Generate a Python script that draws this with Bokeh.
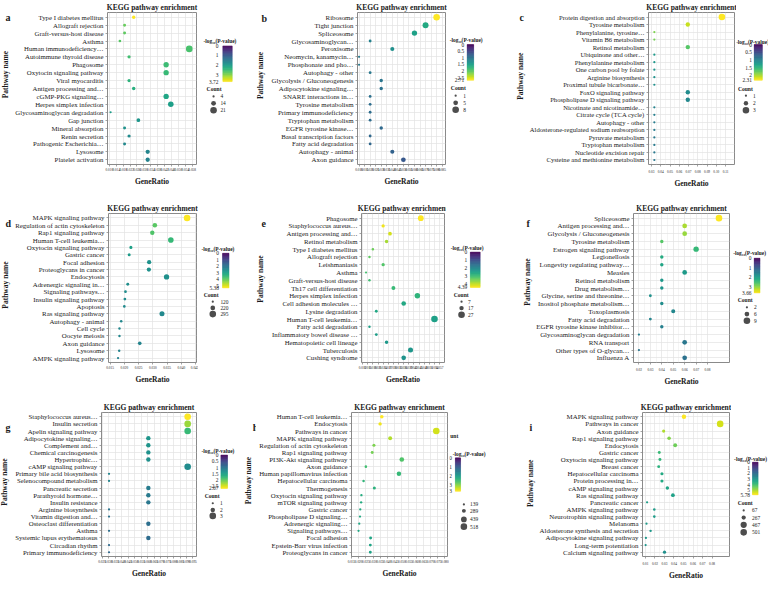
import numpy as np
from bokeh.plotting import figure
from bokeh.layouts import row, column
from bokeh.models import (Range1d, FixedTicker, NumeralTickFormatter,
                          LinearColorMapper, ColumnDataSource, LinearInterpolator)
from bokeh.transform import transform
from bokeh.palettes import Viridis256
from bokeh.core.properties import value
from bokeh.embed import file_html
from bokeh.resources import INLINE

SERIF = "Liberation Serif"
TXT = "#1a1a1a"

# ------------------------------------------------------------------ data
a_pathway = ["Type I diabetes mellitus", "Allograft rejection", "Graft-versus-host disease", "Asthma",
             "Human immunodeficiency…", "Autoimmune thyroid disease", "Phagosome", "Oxytocin signaling pathway",
             "Viral myocarditis", "Antigen processing and…", "cGMP-PKG signaling…", "Herpes simplex infection",
             "Glycosaminoglycan degradation", "Gap junction", "Mineral absorption", "Renin secretion",
             "Pathogenic Escherichia…", "Lysosome", "Platelet activation"]
a_ratio = [0.0241, 0.0188, 0.0188, 0.0161, 0.0563, 0.0214, 0.0429, 0.0429, 0.0214, 0.0241, 0.0429, 0.0456,
           0.0107, 0.0268, 0.0188, 0.0214, 0.0188, 0.0322, 0.0322]
a_count = [9, 7, 7, 6, 21, 8, 16, 16, 8, 9, 16, 17, 4, 10, 7, 8, 7, 12, 12]
a_logp = [3.72, 2.85, 2.8, 2.75, 2.65, 2.6, 2.55, 2.5, 2.4, 2.35, 2.2, 2.1, 2.05, 1.95, 1.9, 1.8, 1.75, 1.7, 1.65]
a_xticks = [0.010, 0.014, 0.018, 0.022, 0.026, 0.030, 0.034, 0.038, 0.042, 0.046, 0.050, 0.054, 0.058]
a_xlim = [0.0089, 0.0605]
a_cbar = [0, 1, 2, 3, 3.72]
a_sizes = [4, 14, 21]

b_pathway = ["Ribosome", "Tight junction", "Spliceosome", "Glycosaminoglycan…", "Peroxisome",
             "Neomycin, kanamycin…", "Phosphonate and pho…", "Autophagy - other", "Glycolysis / Gluconeogenesis",
             "Adipocytokine signaling…", "SNARE interactions in…", "Tyrosine metabolism",
             "Primary immunodeficiency", "Tryptophan metabolism", "EGFR tyrosine kinase…",
             "Basal transcription factors", "Fatty acid degradation", "Autophagy - animal", "Axon guidance"]
b_ratio = [0.08, 0.07, 0.06, 0.02, 0.04, 0.01, 0.01, 0.02, 0.03, 0.03, 0.02, 0.02, 0.02, 0.02, 0.03, 0.02,
           0.02, 0.04, 0.05]
b_count = [8, 7, 6, 2, 4, 1, 1, 2, 3, 3, 2, 2, 2, 2, 3, 2, 2, 4, 5]
b_logp = [2.71, 1.65, 1.55, 1.2, 1.35, 1.12, 1.1, 1.08, 1.05, 1.02, 1.0, 0.98, 0.97, 0.96, 0.93, 0.92, 0.91,
          0.85, 0.75]
b_xticks = [0.010, 0.015, 0.020, 0.025, 0.030, 0.035, 0.040, 0.045, 0.050, 0.055, 0.060, 0.065, 0.070,
            0.075, 0.080, 0.085]
b_xlim = [0.0086, 0.088]
b_cbar = [0, 0.5, 1, 1.5, 2, 2.5, 2.71]
b_sizes = [1, 5, 8]

c_pathway = ["Protein digestion and absorption", "Tyrosine metabolism", "Phenylalanine, tyrosine…",
             "Vitamin B6 metabolism", "Retinol metabolism", "Ubiquinone and other…", "Phenylalanine metabolism",
             "One carbon pool by folate", "Arginine biosynthesis", "Proximal tubule bicarbonate…",
             "FoxO signaling pathway", "Phospholipase D signaling pathway", "Nicotinate and nicotinamide…",
             "Citrate cycle (TCA cycle)", "Autophagy - other", "Aldosterone-regulated sodium reabsorption",
             "Pyruvate metabolism", "Tryptophan metabolism", "Nucleotide excision repair",
             "Cysteine and methionine metabolism"]
c_ratio = [0.1060, 0.0692, 0.0331, 0.0331, 0.0692, 0.0331, 0.0331, 0.0331, 0.0331, 0.0331, 0.0692, 0.0692,
           0.0331, 0.0331, 0.0331, 0.0331, 0.0331, 0.0331, 0.0331, 0.0331]
c_count = [3, 2, 1, 1, 2, 1, 1, 1, 1, 1, 2, 2, 1, 1, 1, 1, 1, 1, 1, 1]
c_logp = [2.31, 2.12, 1.85, 1.83, 1.7, 1.25, 1.22, 1.2, 1.18, 1.15, 1.12, 1.08, 1.03, 1.0, 0.98, 0.96, 0.95,
          0.94, 0.93, 0.92]
c_xticks = [0.03, 0.04, 0.05, 0.06, 0.07, 0.08, 0.09, 0.10, 0.11]
c_xlim = [0.0268, 0.1196]
c_cbar = [0, 0.5, 1, 1.5, 2, 2.31]
c_sizes = [1, 2, 3]

d_pathway = ["MAPK signaling pathway", "Regulation of actin cytoskeleton", "Rap1 signaling pathway",
             "Human T-cell leukemia…", "Oxytocin signaling pathway", "Gastric cancer", "Focal adhesion",
             "Proteoglycans in cancer", "Endocytosis", "Adrenergic signaling in…", "Signaling pathways…",
             "Insulin signaling pathway", "Apoptosis", "Ras signaling pathway", "Autophagy - animal",
             "Cell cycle", "Oocyte meiosis", "Axon guidance", "Lysosome", "AMPK signaling pathway"]
d_ratio = [0.0420, 0.0307, 0.0298, 0.0363, 0.0223, 0.0217, 0.0287, 0.0286, 0.0348, 0.0212, 0.0204, 0.0202,
           0.0200, 0.0332, 0.0189, 0.0183, 0.0183, 0.0254, 0.0182, 0.0178]
d_count = [295, 216, 209, 255, 157, 152, 202, 201, 244, 149, 143, 142, 140, 233, 133, 129, 129, 178, 128, 125]
d_logp = [5.38, 4.0, 3.9, 3.6, 3.05, 2.95, 2.75, 2.72, 2.7, 2.65, 2.62, 2.6, 2.58, 2.55, 2.5, 2.48, 2.46,
          2.42, 2.4, 2.38]
d_xticks = [0.015, 0.020, 0.025, 0.030, 0.035, 0.040, 0.045]
d_xlim = [0.01445, 0.0453]
d_cbar = [0, 1, 2, 3, 4, 5, 5.38]
d_sizes = [120, 220, 295]

e_pathway = ["Phagosome", "Staphylococcus aureus…", "Antigen processing and…", "Retinol metabolism",
             "Type I diabetes mellitus", "Allograft rejection", "Leishmaniasis", "Asthma",
             "Graft-versus-host disease", "Th17 cell differentiation", "Herpes simplex infection",
             "Cell adhesion molecules …", "Lysine degradation", "Human T-cell leukemia…", "Fatty acid degradation",
             "Inflammatory bowel disease …", "Hematopoietic cell lineage", "Tuberculosis", "Cushing syndrome"]
e_ratio = [0.046, 0.024, 0.028, 0.026, 0.018, 0.016, 0.024, 0.014, 0.016, 0.030, 0.044, 0.036, 0.020, 0.054,
           0.016, 0.020, 0.026, 0.040, 0.036]
e_count = [23, 12, 14, 13, 9, 8, 12, 7, 8, 15, 22, 18, 10, 27, 8, 10, 13, 20, 18]
e_logp = [4.39, 4.3, 4.1, 3.8, 3.4, 3.3, 3.2, 3.1, 3.05, 2.95, 2.85, 2.65, 2.62, 2.5, 2.5, 2.45, 2.38, 2.3, 2.25]
e_xticks = [0.012, 0.015, 0.018, 0.021, 0.024, 0.027, 0.030, 0.033, 0.036, 0.039, 0.042, 0.045, 0.048,
            0.051, 0.054, 0.057]
e_xlim = [0.01135, 0.05985]
e_cbar = [0, 1, 2, 3, 4, 4.39]
e_sizes = [7, 17, 27]

f_pathway = ["Spliceosome", "Antigen processing and…", "Glycolysis / Gluconeogenesis", "Tyrosine metabolism",
             "Estrogen signaling pathway", "Legionellosis", "Longevity regulating pathway…", "Measles",
             "Retinol metabolism", "Drug metabolism…", "Glycine, serine and threonine…",
             "Inositol phosphate metabolism…", "Toxoplasmosis", "Fatty acid degradation",
             "EGFR tyrosine kinase inhibitor…", "Glycosaminoglycan degradation", "RNA transport",
             "Other types of O-glycan…", "Influenza A"]
f_ratio = [0.09, 0.06, 0.06, 0.04, 0.07, 0.04, 0.04, 0.06, 0.04, 0.04, 0.03, 0.04, 0.05, 0.03, 0.04, 0.02,
           0.06, 0.02, 0.06]
f_count = [9, 6, 6, 4, 7, 4, 4, 6, 4, 4, 3, 4, 5, 3, 4, 2, 6, 2, 6]
f_logp = [3.66, 3.2, 3.1, 2.7, 2.45, 2.25, 2.15, 2.0, 1.95, 1.9, 1.85, 1.8, 1.7, 1.65, 1.6, 1.55, 1.45, 1.42, 1.38]
f_xticks = [0.02, 0.03, 0.04, 0.05, 0.06, 0.07, 0.08]
f_xlim = [0.01525, 0.0992]
f_cbar = [0, 1, 2, 3, 3.66]
f_sizes = [2, 6, 9]

g_pathway = ["Staphylococcus aureus…", "Insulin secretion", "Apelin signaling pathway", "Adipocytokine signaling…",
             "Complement and…", "Chemical carcinogenesis", "Hypertrophic…", "cAMP signaling pathway",
             "Primary bile acid biosynthesis", "Selenocompound metabolism", "Pancreatic secretion",
             "Parathyroid hormone…", "Insulin resistance", "Arginine biosynthesis", "Vitamin digestion and…",
             "Osteoclast differentiation", "Asthma", "Systemic lupus erythematosus", "Circadian rhythm",
             "Primary immunodeficiency"]
g_ratio = [0.0909, 0.0909, 0.0909, 0.0606, 0.0606, 0.0606, 0.0606, 0.0909, 0.0303, 0.0303, 0.0606, 0.0606,
           0.0606, 0.0303, 0.0303, 0.0606, 0.0303, 0.0606, 0.0303, 0.0303]
g_count = [3, 3, 3, 2, 2, 2, 2, 3, 1, 1, 2, 2, 2, 1, 1, 2, 1, 2, 1, 1]
g_logp = [2.67, 2.27, 1.8, 1.4, 1.38, 1.36, 1.34, 1.3, 1.22, 1.2, 1.12, 1.1, 1.06, 1.02, 1.0, 0.98, 0.96, 0.94,
          0.92, 0.9]
g_xticks = [0.025, 0.030, 0.035, 0.040, 0.045, 0.050, 0.055, 0.060, 0.065, 0.070, 0.075, 0.080, 0.085,
            0.090, 0.095]
g_xlim = [0.0245, 0.0977]
g_cbar = [0, 0.5, 1, 1.5, 2, 2.5, 2.67]
g_sizes = [1, 2, 3]

h_pathway = ["Human T-cell leukemia…", "Endocytosis", "Pathways in cancer", "MAPK signaling pathway",
             "Regulation of actin cytoskeleton", "Rap1 signaling pathway", "PI3K-Akt signaling pathway",
             "Axon guidance", "Human papillomavirus infection", "Hepatocellular carcinoma", "Thermogenesis",
             "Oxytocin signaling pathway", "mTOR signaling pathway", "Gastric cancer",
             "Phospholipase D signaling…", "Adrenergic signaling…", "Signaling pathways…", "Focal adhesion",
             "Epstein-Barr virus infection", "Proteoglycans in cancer"]
h_ratio = [0.0361, 0.0349, 0.0740, 0.0419, 0.0306, 0.0294, 0.0500, 0.0250, 0.0480, 0.0234, 0.0309, 0.0219,
           0.0217, 0.0211, 0.0209, 0.0204, 0.0199, 0.0283, 0.0281, 0.0281]
h_count = [253, 244, 518, 293, 214, 206, 350, 175, 336, 164, 216, 153, 152, 148, 146, 143, 139, 198, 197, 197]
h_logp = [3.73, 3.65, 3.47, 3.3, 3.0, 2.95, 2.7, 2.6, 2.5, 2.45, 2.4, 2.32, 2.3, 2.28, 2.26, 2.24, 2.22, 2.2,
          2.18, 2.15]
h_xticks = [0.015, 0.020, 0.025, 0.030, 0.035, 0.040, 0.045, 0.050, 0.055, 0.060, 0.065, 0.070, 0.075, 0.080]
h_xlim = [0.0150, 0.0818]
h_cbar = [0, 1, 2, 3, 3.73]
h_sizes = [139, 289, 439, 518]

i_pathway = ["MAPK signaling pathway", "Pathways in cancer", "Axon guidance", "Rap1 signaling pathway",
             "Endocytosis", "Gastric cancer", "Oxytocin signaling pathway", "Breast cancer",
             "Hepatocellular carcinoma", "Protein processing in…", "cAMP signaling pathway",
             "Ras signaling pathway", "Pancreatic cancer", "AMPK signaling pathway",
             "Neurotrophin signaling pathway", "Melanoma", "Aldosterone synthesis and secretion",
             "Adipocytokine signaling pathway", "Long-term potentiation", "Calcium signaling pathway"]
i_ratio = [0.0505, 0.0885, 0.0292, 0.0349, 0.0413, 0.0246, 0.0253, 0.0240, 0.0274, 0.0274, 0.0331, 0.0389,
           0.0118, 0.0194, 0.0194, 0.0112, 0.0155, 0.0106, 0.0103, 0.0301]
i_count = [286, 501, 165, 198, 234, 139, 143, 136, 155, 155, 187, 220, 72, 110, 110, 68, 88, 67, 67, 170]
i_logp = [5.78, 5.4, 5.1, 4.7, 4.5, 3.9, 3.8, 3.7, 3.5, 3.5, 3.4, 3.3, 3.25, 3.2, 3.2, 3.15, 3.1, 3.05, 3.0, 2.9]
i_xticks = [0.01, 0.02, 0.03, 0.04, 0.05, 0.06, 0.07, 0.08]
i_xlim = [0.0070, 0.0983]
i_cbar = [0, 1, 2, 3, 4, 5, 5.78]
i_sizes = [67, 267, 467, 501]

# ------------------------------------------------------------------ layout (reference px, panel-local)
SLOT_W, SLOT_H = 256, 194
REF_W = 261.33
ROW_H = [198.0, 200.0, 201.0]

LAYOUT = {
    "a": dict(L=105, R=200, T=12, B=173, letter=(8, 6), pn=(5, 81), lt=(224, 37),
              cb=(227, 236.5, 43.5, 90), cbl=222.5, cnt=(218, 100), cx=217.5, clx=224.5,
              cy=[109.3, 118.3, 127.3], lab="6.8px"),
    "b": dict(L=97, R=193, T=12.5, B=172.7, letter=(10, 8), pn=(4, 82), lt=(214, 36),
              cb=(215, 221.7, 41.7, 88.3), cbl=212, cnt=(206, 98), cx=203.3, clx=211,
              cy=[108.3, 117.7, 126.7], lab="6.9px"),
    "c": dict(L=128.3, R=226.7, T=10.5, B=167, letter=(15, 6), pn=(8, 83), lt=(245, 39),
              cb=(246.7, 255, 41.7, 88.3), cbl=244.5, cnt=(237.7, 99.3), cx=238.3, clx=245.5,
              cy=[108.3, 118.3, 127.3], lab="6.6px"),
    "d": dict(L=105, R=200, T=15, B=176.7, letter=(8, 13), pn=(5, 96), lt=(222, 48),
              cb=(226.7, 233.3, 53.3, 100), cbl=223, cnt=(215, 109.3), cx=216.7, clx=224.5,
              cy=[118.3, 126.7, 135], lab="6.9px"),
    "e": dict(L=95, R=191.7, T=17.3, B=179.3, letter=(10, 13), pn=(4, 88), lt=(215, 46.7),
              cb=(218.3, 228.3, 51.7, 99.3), cbl=215, cnt=(209, 109.3), cx=209.3, clx=216,
              cy=[118.3, 127, 136], lab="6.8px"),
    "f": dict(L=122.7, R=221.7, T=20, B=177.5, letter=(21.7, 13), pn=(15, 92), lt=(242, 53.3),
              cb=(246.7, 252.7, 60, 106.7), cbl=244, cnt=(237.5, 116.7), cx=239.3, clx=246.5,
              cy=[126, 135, 144], lab="6.9px"),
    "g": dict(L=103.3, R=200, T=21.8, B=187.2, letter=(8, 20.7), pn=(4, 97), lt=(222, 54.3),
              cb=(225, 231.7, 59.3, 106), cbl=222.5, cnt=(216, 116.7), cx=216.7, clx=224,
              cy=[126.7, 136, 144.3], lab="6.8px"),
    "h": dict(L=95, R=195, T=24, B=186.5, letter=None, pn=None, lt=(217, 57.3),
              cb=(203, 208.3, 63.3, 110), cbl=199.5, cnt=None, cx=211.7, clx=218,
              cy=[128.3, 137.3, 149.3, 159.3], lab="6.8px"),
    "i": dict(L=121.7, R=221.7, T=25.2, B=185.8, letter=(23.3, 20.7), pn=(18.3, 99), lt=(243, 65),
              cb=(245, 250.7, 69.3, 115), cbl=242.5, cnt=(237.5, 126), cx=236, clx=244.5,
              cy=[136.7, 146.7, 156.7, 167.3], lab="6.9px"),
}

PANELS = [
    ("a", a_pathway, a_ratio, a_count, a_logp, a_xticks, a_xlim, a_cbar, a_sizes, "0.000"),
    ("b", b_pathway, b_ratio, b_count, b_logp, b_xticks, b_xlim, b_cbar, b_sizes, "0.000"),
    ("c", c_pathway, c_ratio, c_count, c_logp, c_xticks, c_xlim, c_cbar, c_sizes, "0.00"),
    ("d", d_pathway, d_ratio, d_count, d_logp, d_xticks, d_xlim, d_cbar, d_sizes, "0.000"),
    ("e", e_pathway, e_ratio, e_count, e_logp, e_xticks, e_xlim, e_cbar, e_sizes, "0.000"),
    ("f", f_pathway, f_ratio, f_count, f_logp, f_xticks, f_xlim, f_cbar, f_sizes, "0.00"),
    ("g", g_pathway, g_ratio, g_count, g_logp, g_xticks, g_xlim, g_cbar, g_sizes, "0.000"),
    ("h", h_pathway, h_ratio, h_count, h_logp, h_xticks, h_xlim, h_cbar, h_sizes, "0.000"),
    ("i", i_pathway, i_ratio, i_count, i_logp, i_xticks, i_xlim, i_cbar, i_sizes, "0.00"),
]

MINOR = {"c", "f", "i"}


def blank(width, x0, x1):
    f = figure(width=width, height=SLOT_H, output_backend="svg", toolbar_location=None,
               x_range=Range1d(x0, x1), y_range=Range1d(0, SLOT_H),
               x_axis_location=None, y_axis_location=None,
               min_border=0, min_border_left=0, min_border_right=0, min_border_top=0, min_border_bottom=0)
    f.grid.grid_line_color = None
    f.outline_line_color = None
    return f


def txt(f, x, y, s, size, style="normal", align="center", angle=0.0):
    f.text(x=[x], y=[y], text=[s], text_font=value(SERIF), text_font_size=size, text_font_style=style,
           text_align=align, text_baseline="middle", angle=angle, text_color=TXT)


def build(spec, r):
    key, names, ratio, count, logp, xticks, xlim, cbar, sizes, fmt = spec
    lay = LAYOUT[key]
    sx = SLOT_W / REF_W
    sy = SLOT_H / ROW_H[r]

    def X(v):
        return v * sx

    def Y(v):
        return SLOT_H - v * sy

    L, R = lay["L"] * sx, lay["R"] * sx
    T, B = lay["T"] * sy, lay["B"] * sy
    Lp, Rp, Tp, Bp = int(round(L)), int(round(R)), int(round(T)), int(round(B))
    Wm = Rp + 2
    Wl = SLOT_W - Wm
    Ws = 0 if lay["pn"] is None else int(round(max(lay["pn"][0] * sx + 6, 12)))
    n = len(names)
    ypos = [n - 1 - k for k in range(n)]          # row index, first pathway on top

    vmax = max(cbar)
    mapper = LinearColorMapper(palette=Viridis256, low=0, high=vmax)
    cmin = min(min(count), min(sizes))
    cmax = max(max(count), max(sizes))
    interp = LinearInterpolator(x=[cmin, cmax], y=[2.2, 6.6], clip=True)

    figs = []
    # ---------------- left strip: panel letter + y title
    if Ws:
        s = blank(Ws, 0, Ws)
        px, py = lay["pn"]
        txt(s, X(px), Y(py), "Pathway name", "7.5px", "bold", "center", np.pi / 2)
        lx, ly = lay["letter"]
        txt(s, min(X(lx), Ws - 7), Y(ly), key, "10px", "bold", "left")
        figs.append(s)

    # ---------------- dot plot
    p = figure(width=Wm - Ws, height=SLOT_H, output_backend="svg", toolbar_location=None,
               y_range=Range1d(-0.6, n - 0.4), x_range=Range1d(xlim[0], xlim[1]),
               min_border_left=Lp - Ws, min_border_right=Wm - Rp, min_border_top=Tp,
               min_border_bottom=SLOT_H - Bp)
    src = ColumnDataSource(dict(name=names, y=ypos, ratio=ratio, count=count, logp=logp))
    p.scatter(x="ratio", y="y", source=src, size=transform("count", interp),
              fill_color=transform("logp", mapper), line_color=None)

    p.title.text = "KEGG pathway enrichment"
    p.title.align = "center"
    p.title.text_font = SERIF
    p.title.text_font_size = "7.5px"
    p.title.text_font_style = "bold"
    p.title.text_color = TXT
    p.title.standoff = 1
    p.title.offset = 0

    minor = [(a + b) / 2 for a, b in zip(xticks[:-1], xticks[1:])] if key in MINOR else []
    p.xaxis.ticker = FixedTicker(ticks=xticks, minor_ticks=minor)
    p.xaxis.formatter = NumeralTickFormatter(format=fmt)
    p.xaxis.axis_label = "GeneRatio"
    p.xaxis.axis_label_text_font = SERIF
    p.xaxis.axis_label_text_font_style = "bold"
    p.xaxis.axis_label_text_font_size = "7.5px"
    p.xaxis.axis_label_text_color = TXT
    p.xaxis.axis_label_standoff = 3
    p.xaxis.major_label_text_font_size = "3.4px"
    p.xaxis.major_label_text_font = SERIF
    p.xaxis.major_label_text_color = TXT
    p.xaxis.major_label_standoff = 1
    p.xaxis.minor_tick_line_color = None
    p.yaxis.ticker = FixedTicker(ticks=ypos, minor_ticks=[])
    p.yaxis.major_label_overrides = {yv: nm for yv, nm in zip(ypos, names)}
    for ax in (p.xaxis, p.yaxis):
        ax.axis_line_color = None
        ax.major_tick_out = 2
        ax.major_tick_in = 0
        ax.major_tick_line_color = "#666666"
        ax.major_tick_line_width = 0.6
    p.yaxis.minor_tick_line_color = None
    p.yaxis.major_label_text_font = SERIF
    p.yaxis.major_label_text_font_size = lay["lab"]
    p.yaxis.major_label_text_color = TXT
    p.yaxis.major_label_standoff = 2
    p.xgrid.grid_line_color = "#e3e3e3"
    p.ygrid.grid_line_color = "#e3e3e3"
    p.xgrid.grid_line_width = 0.7
    p.ygrid.grid_line_width = 0.7
    if minor:
        p.xgrid.minor_grid_line_color = "#eeeeee"
        p.xgrid.minor_grid_line_width = 0.6
    p.outline_line_color = "#8a8a8a"
    p.outline_line_width = 1
    figs.append(p)

    # ---------------- legend strip
    q = blank(Wl, Wm, SLOT_W)
    tx, tyy = lay["lt"]
    txt(q, X(tx), Y(tyy), "-log\u2081\u2080(P-value)", "5.4px", "bold")
    x0, x1, y0, y1 = lay["cb"]
    nb = 64
    ks = np.arange(nb)
    cbsrc = ColumnDataSource(dict(
        v=list(vmax * (ks + 0.5) / nb),
        top=list(Y(y0 + ks * (y1 - y0) / nb)),
        bottom=list(Y(y0 + (ks + 1) * (y1 - y0) / nb)),
        left=[X(x0)] * nb, right=[X(x1)] * nb))
    q.quad(left="left", right="right", top="top", bottom="bottom", source=cbsrc,
           fill_color=transform("v", mapper), line_color=transform("v", mapper), line_width=0.4)
    q.text(x=[X(lay["cbl"])] * len(cbar), y=[Y(y0 + v / vmax * (y1 - y0)) for v in cbar],
           text=[f"{v:g}" for v in cbar], text_font=value(SERIF), text_font_size="5.4px",
           text_align="right", text_baseline="middle", text_color=TXT)
    if lay["cnt"]:
        cxx, cyy = lay["cnt"]
        txt(q, X(cxx), Y(cyy), "Count", "5.6px", "bold")
    ssrc = ColumnDataSource(dict(c=sizes, x=[X(lay["cx"])] * len(sizes), y=[Y(v) for v in lay["cy"]],
                                 lx=[X(lay["clx"])] * len(sizes), t=[str(s) for s in sizes]))
    q.scatter(x="x", y="y", size=transform("c", interp), source=ssrc, fill_color="#4d4d4d", line_color=None)
    q.text(x="lx", y="y", text="t", source=ssrc, text_font=value(SERIF), text_font_size="5.4px",
           text_align="left", text_baseline="middle", text_color=TXT)

    if key == "h":
        txt(q, X(197.7), Y(32.3), "unt", "5.6px", "bold", "left")
    if key == "g":
        # letter and y title of panel h fall into this strip in the reference
        txt(q, X(257.5), Y(20.7), "h", "10px", "bold", "left")
        txt(q, X(253), Y(95), "Pathway name", "7.5px", "bold", "center", np.pi / 2)
    figs.append(q)
    return figs


rows = []
for r in range(3):
    figs = []
    for spec in PANELS[r * 3:(r + 1) * 3]:
        figs.extend(build(spec, r))
    rows.append(row(*figs))
layout = column(*rows)

open("out.html", "w").write(file_html(layout, INLINE))
